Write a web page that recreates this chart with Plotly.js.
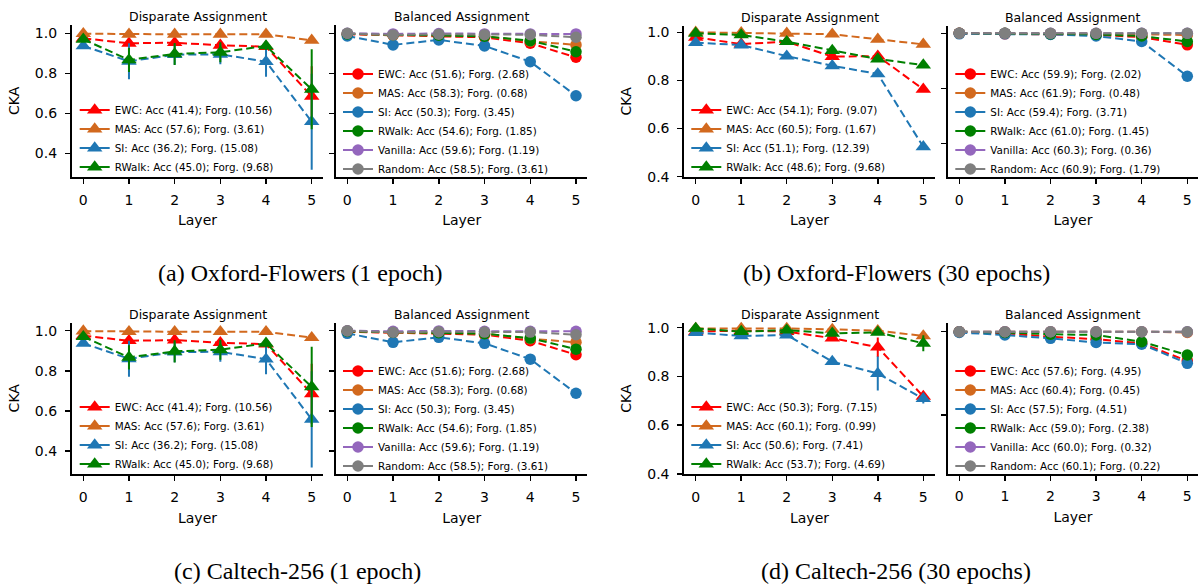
<!DOCTYPE html>
<html><head><meta charset="utf-8">
<script src="https://cdn.plot.ly/plotly-3.0.1.min.js"></script>
<style>html,body{margin:0;padding:0;background:#fff}#chart{width:1198px;height:584px}</style>
</head><body><div id="chart"></div>
<script>
// ---------------- DATA ----------------
const layers = [0, 1, 2, 3, 4, 5];
const methodsDis = ['EWC', 'MAS', 'SI', 'RWalk'];
const methodsBal = ['EWC', 'MAS', 'SI', 'RWalk', 'Vanilla', 'Random'];

// (a) Oxford-Flowers (1 epoch) - Disparate
const a_dis_ewc = [0.975, 0.950, 0.953, 0.940, 0.933, 0.685];
const a_dis_mas = [0.998, 0.995, 0.995, 0.995, 0.995, 0.965];
const a_dis_si  = [0.937, 0.860, 0.893, 0.895, 0.858, 0.558];
const a_dis_rw  = [0.970, 0.867, 0.897, 0.905, 0.937, 0.720];
const a_dis_ewc_err = [0.005, 0.010, 0.010, 0.010, 0.010, 0.150];
const a_dis_mas_err = [0.003, 0.003, 0.003, 0.003, 0.003, 0.005];
const a_dis_si_err  = [0.010, 0.090, 0.050, 0.050, 0.075, 0.240];
const a_dis_rw_err  = [0.010, 0.060, 0.055, 0.050, 0.020, 0.200];
const a_dis_labels = ['EWC: Acc (41.4); Forg. (10.56)', 'MAS: Acc (57.6); Forg. (3.61)', 'SI: Acc (36.2); Forg. (15.08)', 'RWalk: Acc (45.0); Forg. (9.68)'];
// (a) Balanced
const a_bal_ewc = [0.995, 0.990, 0.985, 0.980, 0.950, 0.880];
const a_bal_mas = [0.998, 0.990, 0.990, 0.985, 0.960, 0.942];
const a_bal_si  = [0.987, 0.942, 0.967, 0.937, 0.858, 0.688];
const a_bal_rw  = [0.997, 0.993, 0.990, 0.985, 0.963, 0.908];
const a_bal_van = [1.000, 0.997, 0.999, 0.997, 0.997, 0.997];
const a_bal_rnd = [1.000, 0.992, 0.995, 0.993, 0.993, 0.980];
const a_bal_labels = ['EWC: Acc (51.6); Forg. (2.68)', 'MAS: Acc (58.3); Forg. (0.68)', 'SI: Acc (50.3); Forg. (3.45)', 'RWalk: Acc (54.6); Forg. (1.85)', 'Vanilla: Acc (59.6); Forg. (1.19)', 'Random: Acc (58.5); Forg. (3.61)'];

// (b) Oxford-Flowers (30 epochs) - Disparate
const b_dis_ewc = [0.979, 0.951, 0.961, 0.899, 0.901, 0.763];
const b_dis_mas = [1.000, 0.998, 0.996, 0.992, 0.971, 0.950];
const b_dis_si  = [0.957, 0.947, 0.901, 0.861, 0.827, 0.524];
const b_dis_rw  = [0.996, 0.989, 0.961, 0.924, 0.889, 0.864];
const b_dis_labels = ['EWC: Acc (54.1); Forg. (9.07)', 'MAS: Acc (60.5); Forg. (1.67)', 'SI: Acc (51.1); Forg. (12.39)', 'RWalk: Acc (48.6); Forg. (9.68)'];
// (b) Balanced
const b_bal_ewc = [1.000, 0.999, 0.999, 0.997, 0.993, 0.979];
const b_bal_mas = [1.000, 1.000, 0.999, 0.999, 0.998, 0.997];
const b_bal_si  = [0.999, 0.999, 0.998, 0.995, 0.985, 0.922];
const b_bal_rw  = [1.000, 1.000, 0.999, 0.998, 0.995, 0.985];
const b_bal_van = [1.000, 1.000, 1.000, 1.000, 1.000, 1.000];
const b_bal_rnd = [1.000, 1.000, 1.000, 1.000, 1.000, 1.000];
const b_bal_labels = ['EWC: Acc (59.9); Forg. (2.02)', 'MAS: Acc (61.9); Forg. (0.48)', 'SI: Acc (59.4); Forg. (3.71)', 'RWalk: Acc (61.0); Forg. (1.45)', 'Vanilla: Acc (60.3); Forg. (0.36)', 'Random: Acc (60.9); Forg. (1.79)'];

// (c) Caltech-256 (1 epoch) - Disparate
const c_dis_ewc = [0.975, 0.950, 0.953, 0.940, 0.933, 0.685];
const c_dis_mas = [0.998, 0.995, 0.995, 0.995, 0.995, 0.965];
const c_dis_si  = [0.937, 0.860, 0.893, 0.895, 0.858, 0.558];
const c_dis_rw  = [0.970, 0.867, 0.897, 0.905, 0.937, 0.720];
const c_dis_ewc_err = [0.005, 0.010, 0.010, 0.010, 0.010, 0.150];
const c_dis_mas_err = [0.003, 0.003, 0.003, 0.003, 0.003, 0.005];
const c_dis_si_err  = [0.010, 0.090, 0.050, 0.050, 0.075, 0.240];
const c_dis_rw_err  = [0.010, 0.060, 0.055, 0.050, 0.020, 0.200];
const c_dis_labels = ['EWC: Acc (41.4); Forg. (10.56)', 'MAS: Acc (57.6); Forg. (3.61)', 'SI: Acc (36.2); Forg. (15.08)', 'RWalk: Acc (45.0); Forg. (9.68)'];
// (c) Balanced
const c_bal_ewc = [0.995, 0.990, 0.985, 0.980, 0.950, 0.880];
const c_bal_mas = [0.998, 0.990, 0.990, 0.985, 0.960, 0.942];
const c_bal_si  = [0.987, 0.942, 0.967, 0.937, 0.858, 0.688];
const c_bal_rw  = [0.997, 0.993, 0.990, 0.985, 0.963, 0.908];
const c_bal_van = [1.000, 0.997, 0.999, 0.997, 0.997, 0.997];
const c_bal_rnd = [1.000, 0.992, 0.995, 0.993, 0.993, 0.980];
const c_bal_labels = ['EWC: Acc (51.6); Forg. (2.68)', 'MAS: Acc (58.3); Forg. (0.68)', 'SI: Acc (50.3); Forg. (3.45)', 'RWalk: Acc (54.6); Forg. (1.85)', 'Vanilla: Acc (59.6); Forg. (1.19)', 'Random: Acc (58.5); Forg. (3.61)'];

// (d) Caltech-256 (30 epochs) - Disparate
const d_dis_ewc = [0.984, 0.988, 0.984, 0.957, 0.920, 0.718];
const d_dis_mas = [0.997, 0.997, 0.997, 0.993, 0.988, 0.966];
const d_dis_si  = [0.980, 0.966, 0.970, 0.861, 0.812, 0.709];
const d_dis_rw  = [0.997, 0.984, 0.990, 0.977, 0.981, 0.936];
const d_dis_ewc_err = [0.005, 0.005, 0.005, 0.010, 0.040, 0.015];
const d_dis_mas_err = [0.003, 0.003, 0.003, 0.003, 0.003, 0.005];
const d_dis_si_err  = [0.005, 0.005, 0.005, 0.010, 0.070, 0.020];
const d_dis_rw_err  = [0.003, 0.005, 0.005, 0.010, 0.010, 0.033];
const d_dis_labels = ['EWC: Acc (50.3); Forg. (7.15)', 'MAS: Acc (60.1); Forg. (0.99)', 'SI: Acc (50.6); Forg. (7.41)', 'RWalk: Acc (53.7); Forg. (4.69)'];
// (d) Balanced
const d_bal_ewc = [1.000, 0.998, 0.994, 0.991, 0.986, 0.965];
const d_bal_mas = [1.000, 1.000, 1.000, 1.000, 1.000, 0.999];
const d_bal_si  = [0.999, 0.996, 0.992, 0.987, 0.985, 0.962];
const d_bal_rw  = [1.000, 0.999, 0.997, 0.996, 0.988, 0.972];
const d_bal_van = [1.000, 1.000, 1.000, 1.000, 1.000, 1.000];
const d_bal_rnd = [1.000, 1.000, 1.000, 1.000, 1.000, 1.000];
const d_bal_labels = ['EWC: Acc (57.6); Forg. (4.95)', 'MAS: Acc (60.4); Forg. (0.45)', 'SI: Acc (57.5); Forg. (4.51)', 'RWalk: Acc (59.0); Forg. (2.38)', 'Vanilla: Acc (60.0); Forg. (0.32)', 'Random: Acc (60.1); Forg. (0.22)'];

const captions = ['(a) Oxford-Flowers (1 epoch)', '(b) Oxford-Flowers (30 epochs)', '(c) Caltech-256 (1 epoch)', '(d) Caltech-256 (30 epochs)'];
const subTitles = ['Disparate Assignment', 'Balanced Assignment'];
const xTitle = 'Layer';
const yTitle = 'CKA';

// ---------------- STYLE / LAYOUT ----------------
const W = 1198, H = 584;
const COLORS = {EWC: '#ff0000', MAS: '#d2691e', SI: '#1f77b4', RWalk: '#008000', Vanilla: '#9467bd', Random: '#7f7f7f'};
const FONT = 'DejaVu Sans, Arial, sans-serif';

// pixel geometry of each subplot (style only)
const geo = [
  {p0: 83.3, p5: 311.7, v1: 1.0, y1: 33.3, v2: 0.4, y2: 153.3, top: 25, bot: 176.7, ticks: [0.4, 0.6, 0.8, 1.0], left: true, lgX: 81.7, lgY: 110},
  {p0: 347.3, p5: 576.0, v1: 1.0, y1: 33.3, v2: 0.4, y2: 153.3, top: 25, bot: 176.7, ticks: [0.4, 0.6, 0.8, 1.0], left: false, lgX: 345, lgY: 74},
  {p0: 695.7, p5: 923.3, v1: 1.0, y1: 32.3, v2: 0.4, y2: 176.7, top: 26, bot: 176.7, ticks: [0.4, 0.6, 0.8, 1.0], left: true, lgX: 693.3, lgY: 110},
  {p0: 959.3, p5: 1187.3, v1: 1.0, y1: 33.3, v2: 0.8, y2: 143.3, top: 26, bot: 176.7, ticks: [0.8, 0.9, 1.0], left: false, lgX: 957.3, lgY: 74},
  {p0: 83.3, p5: 311.7, v1: 1.0, y1: 330.7, v2: 0.4, y2: 451, top: 322.5, bot: 474, ticks: [0.4, 0.6, 0.8, 1.0], left: true, lgX: 81.7, lgY: 407},
  {p0: 347.3, p5: 576.0, v1: 1.0, y1: 330.7, v2: 0.4, y2: 451, top: 322.5, bot: 474, ticks: [0.4, 0.6, 0.8, 1.0], left: false, lgX: 345, lgY: 371},
  {p0: 695.7, p5: 923.3, v1: 1.0, y1: 327.7, v2: 0.4, y2: 474, top: 323.3, bot: 474, ticks: [0.4, 0.6, 0.8, 1.0], left: true, lgX: 693.3, lgY: 407},
  {p0: 959.3, p5: 1187.3, v1: 1.0, y1: 331.7, v2: 0.9, y2: 415, top: 323.3, bot: 473.5, ticks: [0.9, 1.0], left: false, lgX: 957.3, lgY: 371}
];

const panelsData = [
  {names: methodsDis, series: [a_dis_ewc, a_dis_mas, a_dis_si, a_dis_rw], errs: [a_dis_ewc_err, a_dis_mas_err, a_dis_si_err, a_dis_rw_err], labels: a_dis_labels, symbol: 'triangle-up'},
  {names: methodsBal, series: [a_bal_ewc, a_bal_mas, a_bal_si, a_bal_rw, a_bal_van, a_bal_rnd], errs: null, labels: a_bal_labels, symbol: 'circle'},
  {names: methodsDis, series: [b_dis_ewc, b_dis_mas, b_dis_si, b_dis_rw], errs: null, labels: b_dis_labels, symbol: 'triangle-up'},
  {names: methodsBal, series: [b_bal_ewc, b_bal_mas, b_bal_si, b_bal_rw, b_bal_van, b_bal_rnd], errs: null, labels: b_bal_labels, symbol: 'circle'},
  {names: methodsDis, series: [c_dis_ewc, c_dis_mas, c_dis_si, c_dis_rw], errs: [c_dis_ewc_err, c_dis_mas_err, c_dis_si_err, c_dis_rw_err], labels: c_dis_labels, symbol: 'triangle-up'},
  {names: methodsBal, series: [c_bal_ewc, c_bal_mas, c_bal_si, c_bal_rw, c_bal_van, c_bal_rnd], errs: null, labels: c_bal_labels, symbol: 'circle'},
  {names: methodsDis, series: [d_dis_ewc, d_dis_mas, d_dis_si, d_dis_rw], errs: [d_dis_ewc_err, d_dis_mas_err, d_dis_si_err, d_dis_rw_err], labels: d_dis_labels, symbol: 'triangle-up'},
  {names: methodsBal, series: [d_bal_ewc, d_bal_mas, d_bal_si, d_bal_rw, d_bal_van, d_bal_rnd], errs: null, labels: d_bal_labels, symbol: 'circle'}
];

const traces = [];
const layout = {
  width: W, height: H, margin: {l: 0, r: 0, t: 0, b: 0},
  paper_bgcolor: '#ffffff', plot_bgcolor: 'rgba(0,0,0,0)',
  font: {family: FONT, color: '#000000', size: 14},
  showlegend: true, hovermode: false, annotations: []
};

geo.forEach((g, i) => {
  const sfx = i === 0 ? '' : String(i + 1);
  const xa = 'x' + sfx, ya = 'y' + sfx, lg = 'legend' + sfx;
  const u = (g.p5 - g.p0) / 5;
  const xl = g.p0 - 0.25 * u, xr = Math.min(g.p5 + 0.25 * u, W);
  const s = (g.v1 - g.v2) / (g.y2 - g.y1);
  const yTop = g.v1 + (g.y1 - g.top) * s, yBot = g.v1 - (g.bot - g.y1) * s;
  layout['xaxis' + sfx] = {
    domain: [xl / W, xr / W], range: [(xl - g.p0) / u, (xr - g.p0) / u], anchor: ya,
    tickvals: layers, ticks: 'outside', ticklen: 5, tickwidth: 1.5, tickcolor: '#000',
    showline: true, linewidth: 2, linecolor: '#000', mirror: false, showgrid: false, zeroline: false,
    tickfont: {family: FONT, size: 14, color: '#000'}, ticklabelstandoff: 4,
    title: {text: xTitle, font: {family: FONT, size: 14, color: '#000'}, standoff: 9},
    automargin: false, fixedrange: true
  };
  layout['yaxis' + sfx] = {
    domain: [1 - g.bot / H, 1 - g.top / H], range: [yBot, yTop], anchor: xa,
    tickvals: g.ticks, tickformat: '.1f', ticks: 'outside', ticklen: 5, tickwidth: 1.5, tickcolor: '#000',
    showticklabels: g.left, showline: true, linewidth: 2, linecolor: '#000', mirror: false, showgrid: false, zeroline: false,
    tickfont: {family: FONT, size: 14, color: '#000'}, ticklabelstandoff: 5,
    title: g.left ? {text: yTitle, font: {family: FONT, size: 14, color: '#000'}, standoff: 12} : {text: ''},
    automargin: false, fixedrange: true
  };
  layout[lg] = {
    x: (g.lgX - 7) / W, y: 1 - (g.lgY - 14.5) / H, xanchor: 'left', yanchor: 'top',
    bgcolor: 'rgba(0,0,0,0)', borderwidth: 0, font: {family: FONT, size: 10.4, color: '#000'},
    traceorder: 'normal', itemclick: false, itemdoubleclick: false
  };
  // subplot title
  layout.annotations.push({
    text: subTitles[i % 2], xref: 'paper', yref: 'paper', x: (xl + xr) / 2 / W, y: 1 - (g.top - 8.5) / H,
    xanchor: 'center', yanchor: 'middle', showarrow: false, font: {family: FONT, size: 12.5, color: '#000'}
  });

  const pd = panelsData[i];
  const msize = pd.symbol === 'circle' ? 11.5 : 13.5;
  pd.names.forEach((n, k) => {
    const t = {
      type: 'scatter', mode: 'lines+markers', x: layers, y: pd.series[k], xaxis: xa, yaxis: ya,
      showlegend: false, name: pd.labels[k], hoverinfo: 'skip', cliponaxis: false,
      line: {color: COLORS[n], width: 2, dash: '8px,4px'},
      marker: {symbol: pd.symbol, size: msize, color: COLORS[n]}
    };
    if (pd.errs) t.error_y = {type: 'data', array: pd.errs[k], visible: true, thickness: 2, width: 0, color: COLORS[n]};
    traces.push(t);
  });
  pd.names.forEach((n, k) => {
    traces.push({
      type: 'scatter', mode: 'lines+markers', x: [null], y: [null], xaxis: xa, yaxis: ya,
      legend: lg, showlegend: true, name: pd.labels[k], hoverinfo: 'skip',
      line: {color: COLORS[n], width: 2},
      marker: {symbol: pd.symbol, size: msize, color: COLORS[n]}
    });
  });
});

// captions
const capPos = [[300.5, 273], [896, 273], [297.5, 571], [896, 571]];
captions.forEach((c, i) => {
  layout.annotations.push({
    text: c, xref: 'paper', yref: 'paper', x: capPos[i][0] / W, y: 1 - capPos[i][1] / H,
    xanchor: 'center', yanchor: 'middle', showarrow: false,
    font: {family: 'Liberation Serif, Times New Roman, serif', size: 24, color: '#000'}
  });
});

Plotly.newPlot('chart', traces, layout, {staticPlot: true, displayModeBar: false});
</script>
</body></html>
